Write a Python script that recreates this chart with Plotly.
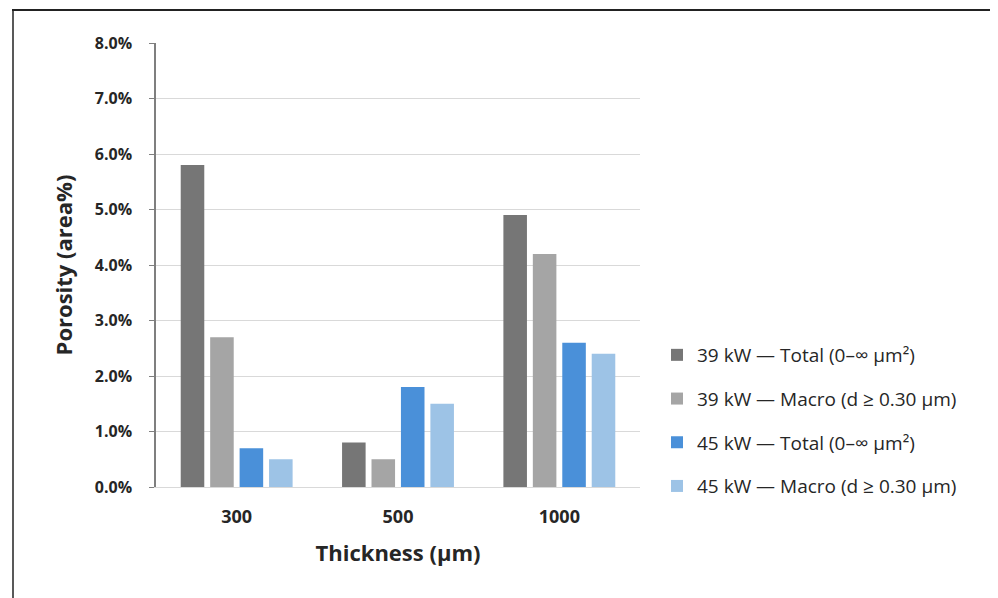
import plotly.graph_objects as go

categories = ["300", "500", "1000"]
series_names = [
    "39 kW — Total (0–∞ µm²)",
    "39 kW — Macro (d ≥ 0.30 µm)",
    "45 kW — Total (0–∞ µm²)",
    "45 kW — Macro (d ≥ 0.30 µm)",
]
total_39 = [0.058, 0.008, 0.049]
macro_39 = [0.027, 0.005, 0.042]
total_45 = [0.007, 0.018, 0.026]
macro_45 = [0.005, 0.015, 0.024]
series_values = [total_39, macro_39, total_45, macro_45]
colors = ["#767676", "#A5A5A5", "#4A90D9", "#9DC3E6"]
y_ticks = [0.0, 0.01, 0.02, 0.03, 0.04, 0.05, 0.06, 0.07, 0.08]
y_tick_labels = ["0.0%", "1.0%", "2.0%", "3.0%", "4.0%", "5.0%", "6.0%", "7.0%", "8.0%"]

FONT = "'Open Sans', Lato, sans-serif"
TXT = "#262626"

fig = go.Figure()
for i, (name, vals, col) in enumerate(zip(series_names, series_values, colors)):
    fig.add_trace(go.Bar(
        x=categories, y=vals, name=name,
        marker=dict(color=col, line=dict(width=0)),
        legendgroup=f"g{i}",
    ))

# page body has an 8px margin; figure coordinates = window - 8
W, H = 990, 590
L, R, T, B = 148, 358, 35, 111
pw, ph = W - L - R, H - T - B

def px_to_paper_x(px):
    return (px - L) / pw

def py_to_paper_y(py):
    return (H - B - py) / ph

fig.update_layout(
    width=W, height=H,
    margin=dict(l=L, r=R, t=T, b=B, pad=0),
    paper_bgcolor="white", plot_bgcolor="white",
    barmode="group", bargap=0.27, bargroupgap=0.2,
    font=dict(family=FONT, color=TXT),
    showlegend=True,
    legend=dict(
        x=px_to_paper_x(649), xanchor="left",
        y=py_to_paper_y(328), yanchor="top",
        font=dict(size=19, color=TXT, family=FONT),
        tracegroupgap=16,
        bgcolor="rgba(0,0,0,0)",
        itemclick=False,
    ),
    xaxis=dict(
        type="category",
        showgrid=False,
        showline=True, linecolor="#D9D9D9", linewidth=1,
        ticks="", ticklabelstandoff=13,
        tickfont=dict(size=18, family=FONT, color=TXT, weight="bold"),
        title=dict(text="Thickness (µm)", standoff=19,
                   font=dict(size=22, family=FONT, color=TXT, weight="bold")),
        zeroline=False,
    ),
    yaxis=dict(
        range=[0, 0.08],
        tickvals=y_ticks, ticktext=y_tick_labels,
        showgrid=True, gridcolor="#D9D9D9", gridwidth=1,
        showline=True, linecolor="#7F7F7F", linewidth=1.5,
        ticks="outside", ticklen=5, tickcolor="#7F7F7F", tickwidth=1,
        ticklabelstandoff=14,
        tickfont=dict(size=16, family=FONT, color=TXT, weight="bold"),
        title=dict(text="Porosity (area%)", standoff=16,
                   font=dict(size=22, family=FONT, color=TXT, weight="bold")),
        zeroline=False,
    ),
    shapes=[
        dict(type="line", xref="paper", yref="paper",
             x0=px_to_paper_x(4), x1=px_to_paper_x(995),
             y0=py_to_paper_y(2), y1=py_to_paper_y(2),
             line=dict(color="#222222", width=2), layer="above"),
        dict(type="line", xref="paper", yref="paper",
             x0=px_to_paper_x(5), x1=px_to_paper_x(5),
             y0=py_to_paper_y(2), y1=py_to_paper_y(595),
             line=dict(color="#222222", width=1.5), layer="above"),
    ],
)

fig.write_html("out.html")
